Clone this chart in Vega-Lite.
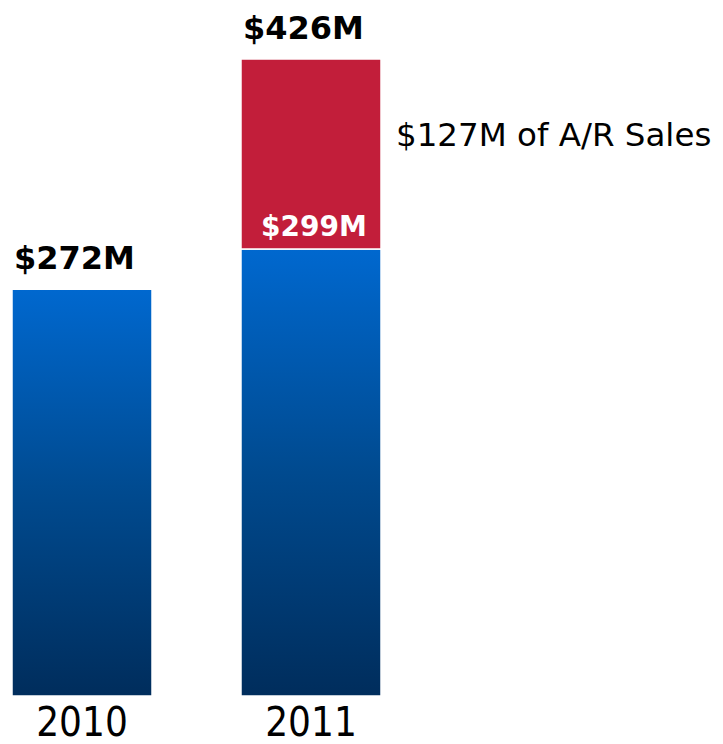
{
  "$schema": "https://vega.github.io/schema/vega-lite/v6.json",
  "width": 369,
  "height": 637,
  "autosize": {"type": "none"},
  "padding": {"left": 12, "top": 59, "right": 342, "bottom": 48},
  "background": "white",
  "config": {"view": {"stroke": null}},
  "data": {
    "values": [
      {"year": "2010", "part": "Base", "order": 1, "value": 272, "top": "$272M"},
      {"year": "2011", "part": "Base", "order": 1, "value": 299, "inner": "$299M"},
      {"year": "2011", "part": "A/R Sales", "order": 2, "value": 127, "top": "$426M", "note": "$127M of A/R Sales"}
    ]
  },
  "transform": [
    {"stack": "value", "groupby": ["year"], "sort": [{"field": "order"}], "as": ["v0", "v1"]}
  ],
  "encoding": {
    "x": {
      "field": "year",
      "type": "nominal",
      "scale": {"domain": ["2010", "2011"], "paddingInner": 0.3886, "paddingOuter": 0},
      "axis": {
        "title": null,
        "domain": false,
        "ticks": false,
        "labelAngle": 0,
        "labelFont": "Liberation Sans Narrow, DejaVu Sans Condensed, Liberation Sans",
        "labelFontSize": 40,
        "labelColor": "#000000",
        "labelBaseline": "alphabetic",
        "labelPadding": 39
      }
    }
  },
  "layer": [
    {
      "transform": [{"filter": "datum.part === 'Base'"}],
      "mark": {
        "type": "bar",
        "stroke": "white",
        "strokeWidth": 1.5,
        "fill": {
          "gradient": "linear",
          "x1": 0, "y1": 0, "x2": 0, "y2": 1,
          "stops": [
            {"offset": 0, "color": "#0068cf"},
            {"offset": 0.5, "color": "#004a8f"},
            {"offset": 1, "color": "#002d5c"}
          ]
        }
      },
      "encoding": {
        "y": {"field": "v0", "type": "quantitative", "scale": {"domain": [0, 426], "nice": false, "zero": true}, "axis": null},
        "y2": {"field": "v1"}
      }
    },
    {
      "transform": [{"filter": "datum.part === 'A/R Sales'"}],
      "mark": {"type": "bar", "fill": "#c21e3a", "stroke": "white", "strokeWidth": 1.5},
      "encoding": {
        "y": {"field": "v0", "type": "quantitative"},
        "y2": {"field": "v1"}
      }
    },
    {
      "transform": [{"filter": "isValid(datum.top)"}],
      "mark": {"type": "text", "align": "left", "baseline": "alphabetic", "dx": 2, "dy": -20, "font": "DejaVu Sans", "fontWeight": "bold", "fontSize": 32, "color": "#000000"},
      "encoding": {
        "x": {"field": "year", "type": "nominal", "bandPosition": 0},
        "y": {"field": "v1", "type": "quantitative"},
        "text": {"field": "top"}
      }
    },
    {
      "transform": [{"filter": "isValid(datum.inner)"}],
      "mark": {"type": "text", "align": "center", "baseline": "alphabetic", "dx": 3, "dy": -13, "font": "DejaVu Sans", "fontWeight": "bold", "fontSize": 28, "color": "#ffffff"},
      "encoding": {
        "x": {"field": "year", "type": "nominal"},
        "y": {"field": "v1", "type": "quantitative"},
        "text": {"field": "inner"}
      }
    },
    {
      "transform": [{"filter": "isValid(datum.note)"}],
      "mark": {"type": "text", "align": "left", "baseline": "alphabetic", "dx": 155, "dy": 87, "font": "DejaVu Sans", "fontSize": 32.5, "color": "#000000"},
      "encoding": {
        "x": {"field": "year", "type": "nominal", "bandPosition": 0},
        "y": {"field": "v1", "type": "quantitative"},
        "text": {"field": "note"}
      }
    }
  ]
}
